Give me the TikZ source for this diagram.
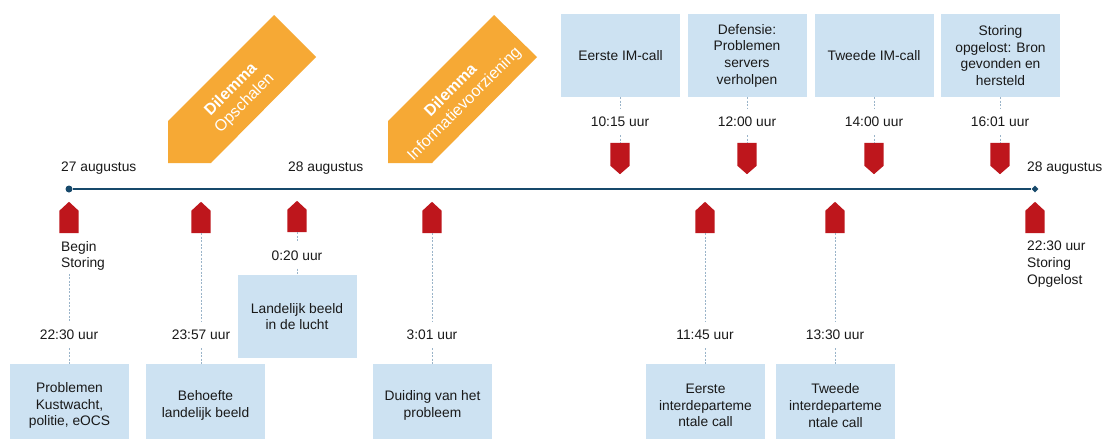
\documentclass[tikz,border=0pt]{standalone}
\usepackage{fontspec}
\setmainfont{Liberation Sans}
\usetikzlibrary{shapes.geometric}
\definecolor{tlblue}{HTML}{17496B}
\definecolor{mkred}{HTML}{BE161C}
\definecolor{dlorange}{HTML}{F6A935}
\definecolor{boxblue}{HTML}{CDE2F2}
\definecolor{dotblue}{HTML}{9AB4C9}
\begin{document}
\begin{tikzpicture}[x=1pt,y=-1pt,
  txt/.style={font=\fontsize{13.8}{16.7}\selectfont, text=black!90},
  ebox/.style={txt, fill=boxblue, minimum width=119pt, minimum height=83pt, inner sep=0pt, align=center},
  tlabel/.style={txt, inner xsep=2pt, inner ysep=8pt},
  datelabel/.style={txt, inner sep=0pt, anchor=west},
  mkbox/.style={minimum width=19pt, minimum height=31pt, inner sep=0pt},
  link/.style={draw=dotblue, line width=0.9pt, dash pattern=on 2pt off 1.5pt},
  dltext/.style={rotate=45, text=white, align=center, font=\fontsize{16}{19}\selectfont}
]
\clip (0,0) rectangle (1103,439);
\fill[white] (0,0) rectangle (1103,439);

% dilemma arrows
\fill[dlorange] (274,15) -- (316,57) -- (211,163) -- (168,163) -- (168,121) -- cycle;
\node[dltext] (dl1) at (238,96.5) {\textbf{Dilemma}\\Opschalen};
\fill[dlorange] (494,15) -- (537,57) -- (432,163) -- (388,163) -- (388,121) -- cycle;
\node[dltext] (dl2) at (458,97.5) {\textbf{Dilemma}\\Informatievoorziening};

% timeline
\node[circle, fill=tlblue, inner sep=0pt, minimum size=7pt] (tlstart) at (69,189) {};
\node[diamond, fill=tlblue, inner sep=0pt, minimum size=7pt] (tlend) at (1035,189) {};
\draw[tlblue, line width=2.5pt] (tlstart) -- (tlend);

\node[datelabel] (d1) at (61,168) {27 augustus};
\node[datelabel] (d2) at (288,168) {28 augustus};
\node[datelabel] (d3) at (1027,168) {28 augustus};

% markers below line (pointing up)
\node[mkbox] (m1) at (69,217.5) {};
\node[mkbox] (m2) at (201,217.5) {};
\node[mkbox] (m3) at (297,216.5) {};
\node[mkbox] (m4) at (432,217.5) {};
\node[mkbox] (m5) at (705,217.5) {};
\node[mkbox] (m6) at (835,217.5) {};
\node[mkbox] (m7) at (1035,217.5) {};
\foreach \n in {m1,m2,m3,m4,m5,m6,m7}
  \fill[mkred] (\n.south west) -- (\n.south east) -- ([yshift=-9pt]\n.north east) -- (\n.north) -- ([yshift=-9pt]\n.north west) -- cycle;

% markers above line (pointing down)
\node[mkbox] (n1) at (620,158.5) {};
\node[mkbox] (n2) at (747,158.5) {};
\node[mkbox] (n3) at (874,158.5) {};
\node[mkbox] (n4) at (1000,158.5) {};
\foreach \n in {n1,n2,n3,n4}
  \fill[mkred] (\n.north west) -- (\n.north east) -- ([yshift=8.5pt]\n.south east) -- (\n.south) -- ([yshift=8.5pt]\n.south west) -- cycle;

% top boxes
\node[ebox] (b1) at (620.5,55.5) {Eerste IM-call};
\node[ebox] (b2) at (747,55.5) {Defensie:\\Problemen\\servers\\verholpen};
\node[ebox] (b3) at (874,55.5) {Tweede IM-call};
\node[ebox] (b4) at (1000.5,55.5) {Storing\\opgelost: Bron\\gevonden en\\hersteld};

% top time labels
\node[tlabel] (t1) at (620,122) {10:15 uur};
\node[tlabel] (t2) at (747,122) {12:00 uur};
\node[tlabel] (t3) at (874,122) {14:00 uur};
\node[tlabel] (t4) at (1000,122) {16:01 uur};

\foreach \b/\t/\n in {b1/t1/n1,b2/t2/n2,b3/t3/n3,b4/t4/n4}{
  \draw[link] (\t.north |- \b.south) -- (\t.north);
  \draw[link] (\t.south) -- (\n.north);
}

% lower texts
\node[txt, anchor=west, align=left, inner xsep=0pt, inner ysep=3pt] (bs) at (61,256) {Begin\\Storing};
\node[txt, anchor=west, align=left, inner xsep=0pt, inner ysep=3pt] (so) at (1027,264) {22:30 uur\\Storing\\Opgelost};

\node[tlabel] (u1) at (69,335) {22:30 uur};
\node[tlabel] (u2) at (201,335) {23:57 uur};
\node[tlabel] (u3) at (297,255.5) {0:20 uur};
\node[tlabel] (u4) at (432,335) {3:01 uur};
\node[tlabel] (u5) at (705,335) {11:45 uur};
\node[tlabel] (u6) at (835,335) {13:30 uur};

% bottom boxes
\node[ebox] (p1) at (69.5,405.5) {Problemen\\Kustwacht,\\politie, eOCS};
\node[ebox] (p2) at (205.5,405.5) {Behoefte\\landelijk beeld};
\node[ebox] (p3) at (297,316.5) {Landelijk beeld\\in de lucht};
\node[ebox] (p4) at (432.5,405.5) {Duiding van het\\probleem};
\node[ebox] (p5) at (705.5,405.5) {Eerste\\interdeparteme\\ntale call};
\node[ebox] (p6) at (835.5,405.5) {Tweede\\interdeparteme\\ntale call};

\draw[link] (u1.north |- bs.south) -- (u1.north);
\foreach \m/\u in {m2/u2,m3/u3,m4/u4,m5/u5,m6/u6}
  \draw[link] (\m.south) -- (\u.north);
\foreach \u/\p in {u1/p1,u2/p2,u3/p3,u4/p4,u5/p5,u6/p6}
  \draw[link] (\u.south) -- (\u.south |- \p.north);
\end{tikzpicture}
\end{document}
